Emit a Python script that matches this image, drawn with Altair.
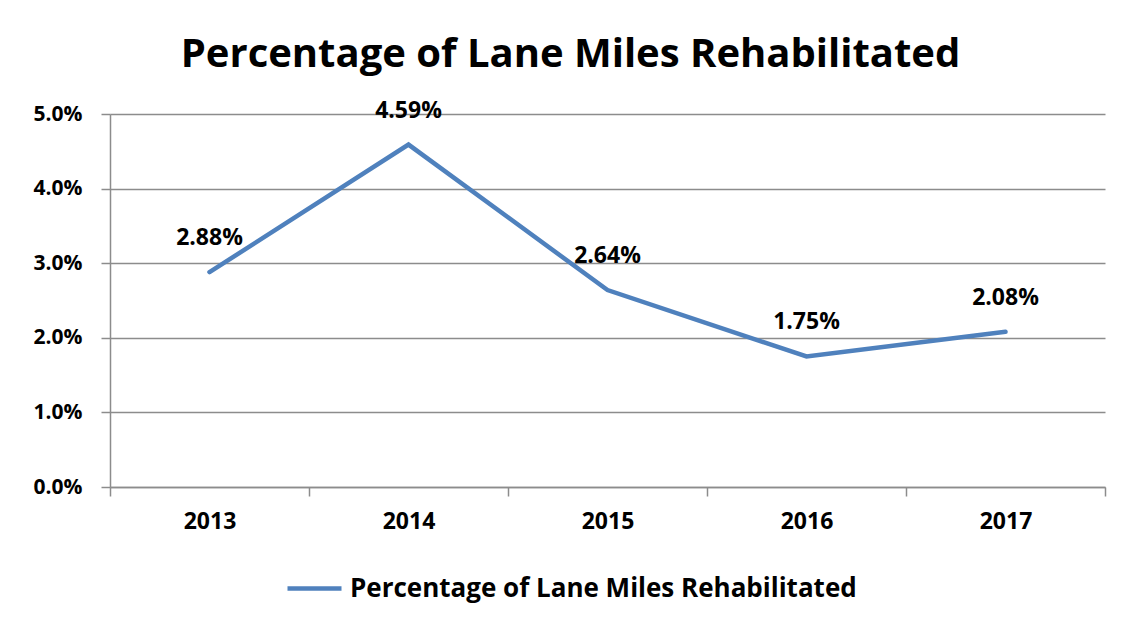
import altair as alt
import pandas as pd

years = [2013, 2014, 2015, 2016, 2017]
values = [0.0288, 0.0459, 0.0264, 0.0175, 0.0208]
labels = ["2.88%", "4.59%", "2.64%", "1.75%", "2.08%"]
series = "Percentage of Lane Miles Rehabilitated"
y_ticks = [0.0, 0.01, 0.02, 0.03, 0.04, 0.05]
x_ticks = [2012.5, 2013.5, 2014.5, 2015.5, 2016.5, 2017.5]

df = pd.DataFrame({"year": years, "value": values, "label": labels, "series": [series] * len(years)})

FONT = "Open Sans"
GRID = "#8c8c8c"
BLUE = "#4F81BD"

x = alt.X(
    "year:Q",
    scale=alt.Scale(domain=[2012.5, 2017.5], nice=False, zero=False),
    axis=alt.Axis(
        values=x_ticks,
        labelExpr="datum.value < 2017 ? format(datum.value + 0.5, 'd') : ''",
        labelOffset=99.5,
        labelFlush=False,
        title=None,
        grid=False,
        tickSize=9,
        labelPadding=14,
    ),
)
y = alt.Y(
    "value:Q",
    scale=alt.Scale(domain=[0, 0.05], nice=False),
    axis=alt.Axis(values=y_ticks, format=".1%", title=None, grid=True, tickSize=9, labelPadding=19,
                  labelFontSize=21),
)

line = alt.Chart(df).mark_line(strokeWidth=4.5, strokeCap="round", strokeJoin="miter").encode(
    x=x,
    y=y,
    color=alt.Color(
        "series:N",
        scale=alt.Scale(range=[BLUE]),
        legend=alt.Legend(
            title=None,
            orient="none",
            legendX=175,
            legendY=445,
            symbolType="stroke",
            symbolSize=2916,
            symbolStrokeWidth=4.5,
            labelFontSize=26,
            labelFont=FONT,
            labelFontWeight="bold",
            labelColor="black",
            labelOffset=6,
            labelLimit=800,
        ),
    ),
)

text = alt.Chart(df).mark_text(
    font=FONT, fontSize=23, fontWeight="bold", color="black", dy=-27, baseline="alphabetic", align="center"
).encode(x=alt.X("year:Q"), y=alt.Y("value:Q"), text="label:N")

chart = (
    alt.layer(line, text)
    .properties(
        width=995,
        height=373,
        padding={"left": 102, "top": 106, "right": 12, "bottom": 134},
        autosize=alt.AutoSizeParams(type="none"),
        title=alt.Title(series, fontSize=40, font=FONT, fontWeight="bold", color="black", offset=25, anchor="middle", dx=-37),
    )
    .configure_view(stroke=None)
    .configure_axis(
        labelFont=FONT,
        labelFontSize=23,
        labelFontWeight="bold",
        labelColor="black",
        domainColor=GRID,
        tickColor=GRID,
        gridColor=GRID,
        domainWidth=1.5,
        tickWidth=1.5,
        gridWidth=1.5,
    )
)

chart.save("out.html", embed_options={"renderer": "svg", "actions": False})
